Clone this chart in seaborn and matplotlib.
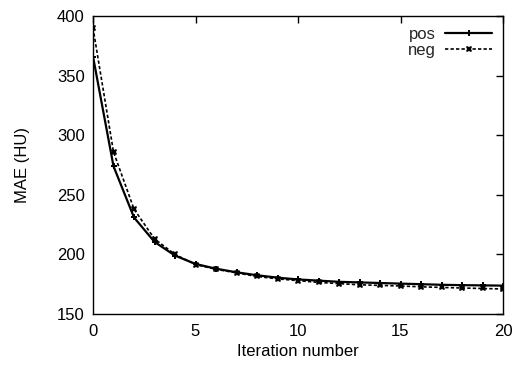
import matplotlib
matplotlib.use("Agg")
import matplotlib.pyplot as plt
import seaborn as sns
import pandas as pd

iterations = list(range(21))
mae_pos = [366, 274, 231, 210.5, 199, 192, 188, 185, 182.5, 180.5, 179,
           178, 177, 176.5, 176, 175.5, 175, 174.5, 174.2, 174, 173.8]
mae_neg = [390, 286, 238, 213, 200, 191.5, 187.5, 184.5, 181.5, 179.5, 178,
           176.5, 175.5, 174.5, 174, 173.5, 172.8, 172.3, 171.8, 171.4, 171]

sns.set_theme(style="white")
plt.rcParams["font.family"] = ["Liberation Sans", "DejaVu Sans"]

df = pd.DataFrame({
    "iter": iterations * 2,
    "mae": mae_pos + mae_neg,
    "series": ["pos"] * len(iterations) + ["neg"] * len(iterations),
})

fig = plt.figure(figsize=(5.15, 3.65), dpi=100)
ax = fig.add_axes([93 / 515, 1 - 314 / 365, 410 / 515, 298 / 365])

sns.lineplot(data=df, x="iter", y="mae", ax=ax,
             hue="series", palette={"pos": "black", "neg": "black"},
             style="series", markers={"pos": "P", "neg": "X"},
             dashes={"pos": "", "neg": (2, 1.3)},
             size="series", sizes={"pos": 1.6, "neg": 1.2},
             markersize=4.5, markeredgewidth=0, legend=False)

ax.set_xlim(0, 20)
ax.set_ylim(150, 400)
ax.set_xticks([0, 5, 10, 15, 20])
ax.set_yticks([150, 200, 250, 300, 350, 400])
ax.tick_params(direction="in", length=5, width=1, top=True, right=True,
               labelsize=12, colors="black", pad=7)
ax.tick_params(axis="y", pad=6)
for s in ax.spines.values():
    s.set_color("black")
    s.set_linewidth(1.0)

ax.set_xlabel("Iteration number", fontsize=12, color="black", labelpad=4)
ax.set_ylabel("MAE (HU)", fontsize=12, color="black", labelpad=19)

lines = ax.get_lines()[:2]
ax.legend(lines, ["pos", "neg"], loc="upper right", frameon=False,
          markerfirst=False, fontsize=12, handlelength=2.8,
          borderaxespad=0.25, labelspacing=0.05, handletextpad=0.6)

fig.savefig("out.png", dpi=100)
